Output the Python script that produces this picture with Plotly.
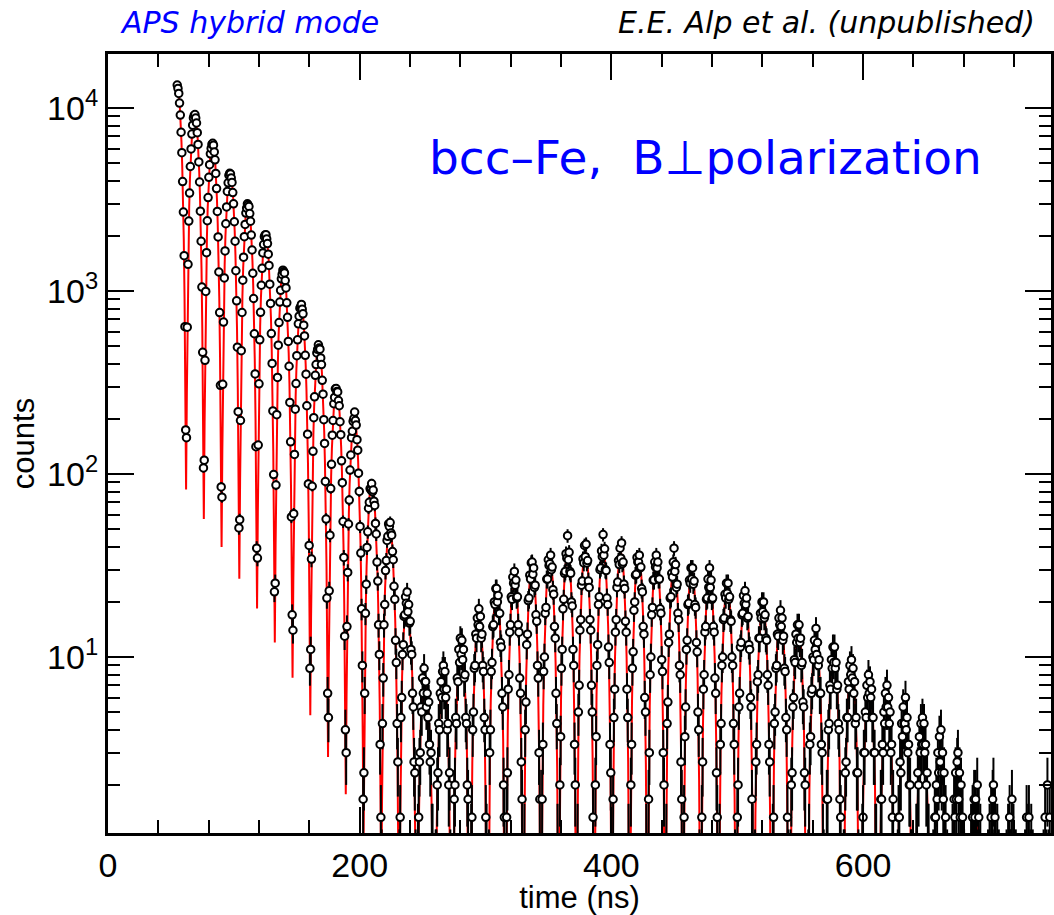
import math
import plotly.graph_objects as go

# ---- time channels (bin width: 23 channels per 14.1 ns beat) ----
T_START = 55.0
BIN = 0.6130

# ---- measured counts, one line per quantum-beat period ----
counts = [
    13350, 12790, 12010, 10640, 9150, 7370, 5700, 3960, 2700, 1560, 638, 174, 158, 634, 1398, 2410, 3430, 4790, 5970, 7200, 8060, 8830, 9110,
    9210, 8810, 8280, 7330, 6320, 5070, 3940, 2730, 1870, 1050, 462, 108, 119, 418, 995, 1620, 2420, 3240, 4180, 4900, 5620, 6010, 6330,
    6410, 6260, 5750, 5210, 4390, 3630, 2720, 1975, 1270, 762, 305, 85, 74.7, 309, 676, 1178, 1655, 2330, 2880, 3500, 3900, 4290, 4400,
    4360, 4150, 3920, 3450, 2995, 2390, 1870, 1290, 884, 493, 219, 50.7, 56.3, 196, 472, 763, 1145, 1530, 1980, 2310, 2665, 2840, 2995,
    2950, 2895, 2650, 2405, 2020, 1675, 1250, 910, 584, 352, 141, 39.3, 34.7, 144, 311, 541, 765, 1075, 1330, 1615, 1795, 1980, 2025,
    2030, 1925, 1815, 1590, 1380, 1090, 855, 585, 402, 221, 99.3, 22.7, 25.3, 87, 211, 337, 506, 672, 870, 1008, 1165, 1232, 1300,
    1275, 1255, 1140, 1040, 862, 718, 530, 388, 246, 150, 58.3, 17, 14, 60.7, 128, 226, 312, 443, 541, 662, 728, 805, 820,
    845, 795, 750, 650, 568, 445, 351, 236, 165, 88.3, 40.7, 8.67, 11, 34.3, 85.7, 133, 203, 264, 346, 396, 459, 480, 508,
    488, 481, 431, 396, 325, 273, 198, 147, 91, 56.7, 21, 6.33, 4.67, 23, 46.3, 83.3, 113, 163, 196, 242, 262, 292, 293,
    282, 281, 252, 236, 193, 164, 118, 89.7, 55, 35, 13, 4, 3, 14.67, 29, 53.3, 72, 105, 127, 158, 171, 194, 201,
    218, 196, 185, 154, 135, 101, 80.3, 51.7, 37, 18.33, 9, 1.67, 2.33, 6.33, 17.33, 25, 39.67, 48.33, 65, 70, 83.33, 82, 88.67,
    80, 81.67, 71, 67.33, 53.67, 47, 33, 26, 15, 10.33, 3.33, 1.33, 0.67, 4.33, 7.67, 15, 19.33, 29.67, 33.67, 43.33, 45.67, 53.33, 51.67,
    54.33, 47.67, 46.33, 37.67, 34, 24.33, 20.67, 12.33, 9.33, 4.33, 2.67, 0.33, 0.67, 1.33, 4.67, 6, 10.33, 11.67, 16.67, 17, 21.33, 19.67, 22.67,
    17.67, 19.33, 15.33, 15.67, 11, 10.33, 6.33, 5.33, 2.67, 2.33, 0.67, 0, 0.33, 1, 1.33, 2.67, 3, 5.33, 5, 7.67, 6.33, 8.67, 7.33,
    7.33, 5.33, 6.33, 4.67, 5.67, 3.33, 2.67, 3, 1, 1, 0.33, 0, 0, 0.67, 0.67, 2, 2.33, 4.33, 4, 6.33, 7.33, 6, 8.33,
    9, 6.67, 8.33, 6, 6.67, 4, 4.33, 2, 2.33, 0.67, 0.33, 0, 0, 0.33, 1.67, 2, 4.67, 4.33, 7.67, 7.33, 11, 9.33, 12.67,
    10.33, 12.33, 9.67, 11, 7.67, 8, 4.67, 4.33, 2, 1.67, 0.33, 0, 0.33, 1, 1.33, 4, 5, 8.67, 9, 13.33, 12.67, 16.33, 15,
    18.33, 14.67, 16.67, 12.67, 13.33, 9, 8.33, 4.67, 4, 1.33, 1, 0, 0, 0.67, 3, 4, 8.33, 9.33, 14.67, 15, 20, 19.33, 23.67,
    23.67, 20, 21.67, 17.33, 17.33, 12, 11.33, 6.33, 5.33, 2, 1.33, 0.33, 0, 1.33, 2.33, 6.67, 8, 13.67, 15, 21.33, 20.67, 27.33, 25.33,
    29.33, 24.67, 26.33, 21, 21.33, 15, 13.67, 7.67, 6.33, 2.67, 1.67, 0.33, 0.33, 1, 4, 5.67, 11.67, 13.33, 20.33, 21, 28, 26.67, 32.67,
    33, 28.33, 30.67, 24, 24.67, 17, 15.67, 9, 7.67, 3, 1.67, 0, 0.33, 1.67, 3.33, 8.33, 10, 17.33, 18.67, 26.67, 26.67, 34, 31.67,
    32.33, 36, 30, 31, 23.33, 22, 14.67, 12.67, 6.33, 4.33, 1, 0.33, 0, 2, 3.67, 8.67, 11, 18.33, 20.67, 28.67, 29.33, 36.67, 34.67,
    46, 34, 37.33, 29.33, 28.67, 20, 19, 11, 9, 3.33, 2, 0.33, 0.33, 1, 5, 7, 14, 16, 24.67, 26, 34.33, 32.67, 40.67,
    35.33, 41.33, 32.67, 33.67, 26, 24, 16, 14, 7, 5, 1.33, 0, 0.33, 2, 3.67, 9, 11.67, 19.33, 21.33, 30, 30.67, 38, 35.33,
    46.67, 36, 39, 30, 29.67, 21, 19.33, 11.33, 9.33, 3.33, 2.33, 0.33, 0, 1.67, 4.67, 6.67, 13.67, 16, 24, 25.67, 33.67, 32, 39.33,
    34.67, 42, 32.33, 33, 25, 23.67, 15.67, 13.67, 6.67, 4.67, 1, 0, 0.33, 2, 3.33, 8.67, 10.67, 18, 20, 28, 28.33, 35, 33,
    33, 36, 30.67, 31, 23.67, 22.67, 14.67, 13.33, 6, 5, 1, 0.33, 0, 1.67, 3, 8, 10, 17, 18.67, 26.33, 26.33, 33, 31,
    36, 30.67, 33, 26.67, 26.67, 18.33, 17.33, 9.67, 8.33, 3, 2, 0, 0.33, 1, 4.33, 5.67, 12, 13.33, 21, 21.33, 28.67, 27.33, 33,
    39.33, 29.33, 32, 24, 25, 17.33, 16, 9, 8, 2.67, 1.67, 0, 0, 1.33, 3.67, 5.33, 11, 12.33, 19.33, 19.67, 26.33, 25.33, 30.67,
    26.67, 30.67, 25, 26, 19.33, 18.67, 12, 10.67, 5, 4, 0.67, 0.33, 0.33, 1.33, 2.67, 6.67, 8, 13.67, 14.67, 20.67, 21, 26.67, 24,
    30.67, 24, 26.33, 20.67, 21, 14.67, 13.67, 7.67, 6.33, 2.33, 1.33, 0, 0, 1, 3.33, 4.33, 9, 10, 16, 16.33, 22, 21, 25.33,
    22.33, 25.33, 20.67, 21.33, 16, 15.67, 10, 9, 4.33, 3.33, 0.67, 0.33, 0, 1.33, 2, 5.33, 6.33, 11.33, 12, 17, 17.33, 21.67, 19.67,
    23, 19.33, 21, 16.33, 16.67, 11.67, 11, 6, 5.33, 1.67, 1, 0, 0.33, 0.67, 2.67, 3.33, 7.33, 8, 12.67, 12.67, 17.33, 16.33, 20,
    17.67, 20, 16.33, 17, 12.67, 12.33, 8, 7, 3.33, 2.67, 0.33, 0, 0, 1, 1.33, 4.33, 5, 8.67, 9, 13.33, 13, 16.33, 15,
    18, 14.67, 16.33, 12.33, 13, 8.67, 8.33, 4.67, 4, 1.33, 0.67, 0.33, 0, 0.67, 2, 2.33, 5.33, 6, 9.67, 9.33, 13.33, 12, 15,
    12.67, 15, 12, 12.67, 9, 9.33, 5.67, 5.33, 2.33, 2, 0.33, 0, 0, 0.67, 1, 3.33, 3.67, 6.33, 6.67, 10, 9.67, 12.33, 11,
    14.33, 10.33, 12, 9, 9.67, 6.33, 6.33, 3.33, 3, 1, 0.67, 0, 0, 0.33, 1.67, 1.67, 4, 4.33, 7, 6.67, 9.67, 8.67, 11.33,
    9.33, 11.33, 8.67, 9.33, 6.67, 7, 4.33, 4, 1.67, 1.33, 0.33, 0, 0, 0.67, 0.67, 2.33, 2.67, 4.67, 4.67, 7.33, 6.67, 9, 8,
    9.67, 7.67, 8.67, 6.33, 7.33, 4.33, 4.67, 2.33, 2.33, 0.67, 0.33, 0, 0, 0.33, 1, 1.33, 3, 3, 5, 4.67, 7, 6, 8,
    6.33, 7.33, 6, 6.67, 4.67, 4.67, 3, 3, 1, 1, 0, 0, 0, 0.33, 0.33, 1.67, 1.67, 3.33, 3, 5, 4.33, 6.33, 5.33,
    7, 5.33, 6, 4.33, 5, 3, 3.33, 1.33, 1.67, 0.33, 0.33, 0, 0, 0, 0.67, 1.33, 1.33, 2.67, 2.33, 4.33, 3.67, 5.33, 4.33,
    4.33, 6, 4, 4.67, 3, 3.33, 2, 2, 0.67, 0.67, 0, 0, 0, 0.33, 0.33, 1, 1, 2.33, 2, 3.67, 3, 4.33, 3.33,
    4.67, 3.33, 4.33, 3, 3.33, 2, 2.33, 1, 1, 0.33, 0.33, 0, 0, 0, 0.67, 0.33, 1.33, 1.33, 2, 1.67, 3, 2.33, 3.67,
    2.67, 4, 2.33, 3, 1.67, 2.33, 1, 1.33, 0.33, 0.67, 0, 0, 0, 0, 0.33, 0.33, 1, 0.67, 1.67, 1.33, 2.33, 1.67, 2.67,
    3, 1.67, 2.33, 1.33, 2, 1, 1.33, 0.33, 0.67, 0, 0.33, 0, 0, 0, 0, 0.33, 0.33, 1, 0.67, 1.33, 1, 1.67, 1.33,
    1.67, 1, 2, 0.67, 1.33, 0.67, 1, 0.33, 0, 0.33, 0, 0, 0, 0, 0.33, 0, 0.67, 0.33, 1, 0.33, 1.33, 0.67, 1.67,
    2, 0.67, 1.33, 1, 0.33, 1, 0.33, 0.67, 0, 0, 0, 0, 0, 0, 0, 0.33, 0, 0.67, 0.33, 1, 0.33, 1.33, 0.67,
    0.67, 1.67, 0.33, 1, 0.67, 0.33, 0.67, 0, 0.33, 0, 0, 0, 0, 0, 0.33, 0, 0.33, 0.33, 0.67, 0.33, 1.33, 0.33, 1,
    1.33, 0.33, 0.67, 1, 0.33, 0.67, 0, 0.33, 0, 0, 0, 0, 0, 0, 0, 0.33, 0, 0.33, 0.33, 0.67, 0.33, 1.33, 0.33,
    0.67, 2, 0.33, 0.67, 1.33, 0.33,
]

# ---- fitted curve, sampled half a channel after each data channel ----
fit = [
    13081, 12448, 11339, 9926, 8290, 6547, 4818, 3247, 1914, 906, 289, 82.2, 280, 849, 1733, 2855, 4105, 5395, 6600, 7656, 8482, 9002, 9161,
    9018, 8581, 7817, 6843, 5715, 4514, 3322, 2239, 1320, 624, 199, 56.7, 193, 585, 1195, 1968, 2830, 3719, 4550, 5278, 5848, 6206, 6315,
    6342, 6035, 5498, 4813, 4019, 3174, 2336, 1574, 928, 439, 140, 39.9, 136, 412, 840, 1384, 1990, 2616, 3200, 3712, 4113, 4365, 4442,
    4261, 4055, 3694, 3234, 2700, 2133, 1570, 1058, 624, 295, 94.2, 26.8, 91.2, 276, 565, 930, 1337, 1757, 2150, 2494, 2763, 2933, 2984,
    2923, 2782, 2534, 2218, 1853, 1463, 1077, 726, 428, 202, 64.6, 18.4, 62.5, 190, 387, 638, 917, 1206, 1475, 1711, 1896, 2012, 2047,
    1978, 1876, 1704, 1486, 1236, 974, 716, 480, 282, 133, 42.4, 12.0, 40.8, 123, 251, 411, 590, 772, 944, 1090, 1202, 1274, 1290,
    1266, 1201, 1091, 951, 791, 623, 458, 307, 180, 85.2, 27.1, 7.7, 26.1, 78.8, 160, 263, 377, 494, 604, 698, 769, 815, 826,
    820, 775, 703, 611, 507, 398, 292, 195, 114, 53.8, 17.1, 4.8, 16.4, 49.2, 99.6, 164, 233, 305, 371, 428, 471, 497, 502,
    484, 458, 415, 361, 299, 235, 172, 115, 67.3, 31.8, 10.1, 2.84, 9.65, 29.1, 58.8, 96.5, 138, 180, 219, 253, 278, 294, 296,
    282, 269, 245, 214, 179, 141, 104, 70.1, 41.3, 19.6, 6.24, 1.78, 6.04, 18.3, 37.4, 61.6, 88.6, 116, 142.5, 165, 183, 194, 198,
    206, 191, 170, 145, 118, 91.4, 65.7, 43.3, 24.8, 11.5, 3.59, 0.99, 3.32, 9.81, 19.6, 31.5, 44.1, 56.7, 67.8, 76.9, 83.2, 86.1, 85.7,
    81.1, 76.9, 69.9, 60.9, 50.7, 39.9, 29.4, 19.7, 11.5, 5.46, 1.74, 0.49, 1.67, 5.05, 10.3, 16.9, 24.2, 31.7, 38.7, 44.7, 49.3, 52.2, 52.9,
    50.9, 47.3, 42.1, 36.0, 29.3, 22.6, 16.3, 10.7, 6.14, 2.85, 0.89, 0.24, 0.82, 2.43, 4.84, 7.8, 10.9, 14.0, 16.8, 19.0, 20.6, 21.3, 21.2,
    18.6, 17.3, 15.4, 13.2, 10.7, 8.27, 5.95, 3.91, 2.24, 1.04, 0.32, 0.09, 0.3, 0.89, 1.77, 2.85, 3.99, 5.13, 6.14, 6.95, 7.52, 7.79, 7.75,
    6.47, 6.23, 5.77, 5.12, 4.34, 3.47, 2.59, 1.76, 1.03, 0.47, 0.12, 0.02, 0.15, 0.58, 1.27, 2.16, 3.18, 4.27, 5.34, 6.30, 7.10, 7.67, 7.96,
    7.96, 7.67, 7.10, 6.30, 5.34, 4.27, 3.18, 2.16, 1.27, 0.58, 0.15, 0.03, 0.22, 0.84, 1.83, 3.11, 4.58, 6.14, 7.67, 9.06, 10.2, 11.0, 11.4,
    11.4, 11.0, 10.2, 9.06, 7.67, 6.14, 4.58, 3.11, 1.83, 0.84, 0.22, 0.04, 0.31, 1.20, 2.62, 4.46, 6.57, 8.81, 11.0, 13.0, 14.7, 15.8, 16.4,
    16.4, 15.8, 14.7, 13.0, 11.0, 8.81, 6.57, 4.46, 2.62, 1.20, 0.31, 0.06, 0.42, 1.61, 3.50, 5.94, 8.76, 11.7, 14.7, 17.3, 19.5, 21.1, 21.9,
    21.9, 21.1, 19.5, 17.3, 14.7, 11.7, 8.76, 5.94, 3.50, 1.61, 0.42, 0.07, 0.51, 1.97, 4.29, 7.29, 10.7, 14.4, 18.0, 21.3, 24.0, 25.9, 26.9,
    26.9, 25.9, 24.0, 21.3, 18.0, 14.4, 10.7, 7.29, 4.29, 1.97, 0.51, 0.09, 0.59, 2.26, 4.93, 8.37, 12.3, 16.6, 20.7, 24.4, 27.5, 29.7, 30.8,
    30.8, 29.7, 27.5, 24.4, 20.7, 16.6, 12.3, 8.37, 4.93, 2.26, 0.59, 0.1, 0.65, 2.48, 5.41, 9.18, 13.5, 18.2, 22.7, 26.8, 30.2, 32.6, 33.8,
    33.8, 32.6, 30.2, 26.8, 22.7, 18.2, 13.5, 9.18, 5.41, 2.48, 0.65, 0.1, 0.69, 2.66, 5.80, 9.86, 14.5, 19.5, 24.3, 28.8, 32.4, 35.0, 36.3,
    36.3, 35.0, 32.4, 28.8, 24.3, 19.5, 14.5, 9.86, 5.80, 2.66, 0.69, 0.11, 0.71, 2.74, 5.96, 10.1, 14.9, 20.0, 25.0, 29.6, 33.3, 36.0, 37.3,
    37.3, 36.0, 33.3, 29.6, 25.0, 20.0, 14.9, 10.1, 5.96, 2.74, 0.71, 0.11, 0.72, 2.77, 6.04, 10.3, 15.1, 20.3, 25.3, 29.9, 33.7, 36.4, 37.8,
    37.8, 36.4, 33.7, 29.9, 25.3, 20.3, 15.1, 10.3, 6.04, 2.77, 0.72, 0.11, 0.70, 2.70, 5.88, 9.99, 14.7, 19.8, 24.7, 29.2, 32.9, 35.5, 36.8,
    36.8, 35.5, 32.9, 29.2, 24.7, 19.8, 14.7, 9.99, 5.88, 2.70, 0.70, 0.11, 0.67, 2.59, 5.64, 9.59, 14.1, 19.0, 23.7, 28.0, 31.5, 34.0, 35.3,
    35.3, 34.0, 31.5, 28.0, 23.7, 19.0, 14.1, 9.59, 5.64, 2.59, 0.67, 0.1, 0.64, 2.45, 5.33, 9.05, 13.3, 17.9, 22.3, 26.4, 29.7, 32.1, 33.3,
    33.3, 32.1, 29.7, 26.4, 22.3, 17.9, 13.3, 9.05, 5.33, 2.45, 0.64, 0.1, 0.60, 2.30, 5.01, 8.51, 12.5, 16.8, 21.0, 24.8, 28.0, 30.2, 31.3,
    31.3, 30.2, 28.0, 24.8, 21.0, 16.8, 12.5, 8.51, 5.01, 2.30, 0.60, 0.09, 0.55, 2.12, 4.61, 7.83, 11.5, 15.5, 19.3, 22.9, 25.8, 27.8, 28.9,
    28.9, 27.8, 25.8, 22.9, 19.3, 15.5, 11.5, 7.83, 4.61, 2.12, 0.55, 0.08, 0.50, 1.93, 4.21, 7.16, 10.5, 14.2, 17.7, 20.9, 23.5, 25.4, 26.4,
    26.4, 25.4, 23.5, 20.9, 17.7, 14.2, 10.5, 7.16, 4.21, 1.93, 0.50, 0.08, 0.46, 1.75, 3.82, 6.48, 9.55, 12.8, 16.0, 18.9, 21.3, 23.0, 23.9,
    23.9, 23.0, 21.3, 18.9, 16.0, 12.8, 9.55, 6.48, 3.82, 1.75, 0.46, 0.07, 0.41, 1.57, 3.42, 5.81, 8.56, 11.5, 14.3, 16.9, 19.1, 20.6, 21.4,
    21.4, 20.6, 19.1, 16.9, 14.3, 11.5, 8.56, 5.81, 3.42, 1.57, 0.41, 0.06, 0.36, 1.39, 3.02, 5.13, 7.56, 10.1, 12.7, 15.0, 16.9, 18.2, 18.9,
    18.9, 18.2, 16.9, 15.0, 12.7, 10.1, 7.56, 5.13, 3.02, 1.39, 0.36, 0.05, 0.31, 1.20, 2.62, 4.46, 6.57, 8.81, 11.0, 13.0, 14.7, 15.8, 16.4,
    16.4, 15.8, 14.7, 13.0, 11.0, 8.81, 6.57, 4.46, 2.62, 1.20, 0.31, 0.05, 0.27, 1.04, 2.26, 3.83, 5.65, 7.58, 9.47, 11.2, 12.6, 13.6, 14.1,
    14.1, 13.6, 12.6, 11.2, 9.47, 7.58, 5.65, 3.83, 2.26, 1.04, 0.27, 0.04, 0.23, 0.89, 1.94, 3.29, 4.86, 6.51, 8.14, 9.61, 10.8, 11.7, 12.1,
    12.1, 11.7, 10.8, 9.61, 8.14, 6.51, 4.86, 3.29, 1.94, 0.89, 0.23, 0.03, 0.20, 0.76, 1.65, 2.81, 4.14, 5.55, 6.94, 8.20, 9.24, 9.97, 10.3,
    10.3, 9.97, 9.24, 8.20, 6.94, 5.55, 4.14, 2.81, 1.65, 0.76, 0.20, 0.03, 0.17, 0.64, 1.40, 2.38, 3.50, 4.70, 5.87, 6.93, 7.81, 8.44, 8.76,
    8.76, 8.44, 7.81, 6.93, 5.87, 4.70, 3.50, 2.38, 1.40, 0.64, 0.17, 0.02, 0.14, 0.53, 1.16, 1.97, 2.91, 3.90, 4.87, 5.75, 6.48, 7.00, 7.26,
    7.26, 7.00, 6.48, 5.75, 4.87, 3.90, 2.91, 1.97, 1.16, 0.53, 0.14, 0.02, 0.11, 0.44, 0.95, 1.62, 2.39, 3.20, 4.0, 4.73, 5.33, 5.75, 5.97,
    5.97, 5.75, 5.33, 4.73, 4.0, 3.20, 2.39, 1.62, 0.95, 0.44, 0.11, 0.02, 0.09, 0.36, 0.78, 1.32, 1.95, 2.62, 3.27, 3.86, 4.35, 4.70, 4.88,
    4.88, 4.70, 4.35, 3.86, 3.27, 2.62, 1.95, 1.32, 0.78, 0.36, 0.09, 0.01, 0.08, 0.29, 0.64, 1.08, 1.59, 2.14, 2.67, 3.15, 3.55, 3.84, 3.98,
    3.98, 3.84, 3.55, 3.15, 2.67, 2.14, 1.59, 1.08, 0.64, 0.29, 0.08, 0.01, 0.06, 0.22, 0.48, 0.81, 1.19, 1.60, 2.0, 2.36, 2.66, 2.88, 2.99,
    2.99, 2.88, 2.66, 2.36, 2.0, 1.60, 1.19, 0.81, 0.48, 0.22, 0.06, 0.01, 0.04, 0.16, 0.35, 0.59, 0.88, 1.17, 1.47, 1.73, 1.95, 2.11, 2.19,
    2.19, 2.11, 1.95, 1.73, 1.47, 1.17, 0.88, 0.59, 0.35, 0.16, 0.04, 0.01, 0.02, 0.09, 0.21, 0.35, 0.52, 0.69, 0.87, 1.02, 1.15, 1.25, 1.29,
    1.29, 1.25, 1.15, 1.02, 0.87, 0.69, 0.52, 0.35, 0.21, 0.09, 0.02, 0.01, 0.02, 0.07, 0.16, 0.27, 0.40, 0.53, 0.67, 0.79, 0.89, 0.96, 1.0,
    1.0, 0.96, 0.89, 0.79, 0.67, 0.53, 0.40, 0.27, 0.16, 0.07, 0.02, 0.01, 0.02, 0.06, 0.14, 0.23, 0.34, 0.45, 0.57, 0.67, 0.75, 0.82, 0.85,
    0.85, 0.82, 0.75, 0.67, 0.57, 0.45, 0.34, 0.23, 0.14, 0.06, 0.02, 0.01, 0.01, 0.05, 0.11, 0.19, 0.28, 0.37, 0.47, 0.55, 0.62, 0.67, 0.70,
    0.70, 0.67, 0.62, 0.55, 0.47, 0.37, 0.28, 0.19, 0.11, 0.05, 0.01, 0.01, 0.01, 0.04, 0.10, 0.16, 0.24, 0.32, 0.40, 0.47, 0.53, 0.58, 0.60,
    0.60, 0.58, 0.53, 0.47, 0.40, 0.32,
]

X_TICKS = [0, 200, 400, 600]
Y_TICKS = [10, 100, 1000, 10000]
Y_TICKTEXT = ["10<sup>1</sup>", "10<sup>2</sup>", "10<sup>3</sup>", "10<sup>4</sup>"]
Y_MINOR = [m * d for d in [1, 10, 100, 1000, 10000] for m in range(2, 10)]

# channel centres and Poisson error bars (counts are N/3, so sigma = sqrt(N)/3)
t_data = [T_START + i * BIN for i in range(len(counts))]
t_fit = [T_START + (i + 0.5) * BIN for i in range(len(fit))]
sigma = [math.sqrt(v / 3.0) for v in counts]

fig = go.Figure()
fig.add_trace(go.Scatter(
    x=t_fit, y=fit, mode="lines",
    line=dict(color="#ff0000", width=2.0),
    showlegend=False, hoverinfo="skip",
))
fig.add_trace(go.Scatter(
    x=t_data, y=counts, mode="markers",
    marker=dict(symbol="circle", size=7.5, color="white",
                line=dict(color="black", width=2.0)),
    error_y=dict(type="data", array=sigma, color="black", thickness=2.0, width=0),
    showlegend=False,
))

AX_FONT = "Liberation Sans, Arial, Helvetica, sans-serif"
fig.update_layout(
    width=1054, height=915,
    margin=dict(l=108, r=0, t=54, b=82),
    paper_bgcolor="white", plot_bgcolor="white",
    font=dict(family=AX_FONT, size=33, color="black"),
)
fig.update_xaxes(
    range=[0, 749.3],
    tickmode="array", tickvals=X_TICKS,
    ticks="inside", ticklen=26, tickwidth=2, tickcolor="black",
    showline=True, linewidth=3, linecolor="black", mirror="allticks",
    showgrid=False, zeroline=False,
    minor=dict(tickmode="linear", tick0=0, dtick=40, ticks="inside", ticklen=13,
               tickwidth=2, tickcolor="black", showgrid=False),
    tickfont=dict(size=34),
    title=dict(text="time (ns)", font=dict(size=31), standoff=0),
)
fig.update_yaxes(
    type="log", range=[0.0383, 4.295],
    tickmode="array", tickvals=Y_TICKS, ticktext=Y_TICKTEXT,
    ticks="inside", ticklen=26, tickwidth=2, tickcolor="black",
    showline=True, linewidth=3, linecolor="black", mirror="allticks",
    showgrid=False, zeroline=False,
    minor=dict(tickmode="array", tickvals=Y_MINOR, ticks="inside", ticklen=12,
               tickwidth=2, tickcolor="black", showgrid=False),
    tickfont=dict(size=34),
    title=dict(text="counts", font=dict(size=31), standoff=4),
)

BLUE = "#0000ff"
TXT_FONT = "DejaVu Sans, Verdana, sans-serif"
fig.add_annotation(
    xref="paper", yref="paper", x=0.0106, y=1.041, xanchor="left", yanchor="middle",
    text="<i>APS hybrid mode</i>", showarrow=False,
    font=dict(family=TXT_FONT, size=30, color=BLUE),
)
fig.add_annotation(
    xref="paper", yref="paper", x=0.985, y=1.041, xanchor="right", yanchor="middle",
    text="<i>E.E. Alp et al. (unpublished)</i>", showarrow=False,
    font=dict(family=TXT_FONT, size=30, color="black"),
)
fig.add_annotation(
    xref="paper", yref="paper", x=0.338, y=0.8665, xanchor="left", yanchor="middle",
    text="bcc\u2013Fe,\u00a0\u00a0B\u22a5polarization", showarrow=False,
    font=dict(family=TXT_FONT, size=47, color=BLUE),
)

fig.write_html(
    "out.html",
    config={"displayModeBar": False},
    post_script="document.body.style.margin='0px';document.body.style.overflow='hidden';",
)
